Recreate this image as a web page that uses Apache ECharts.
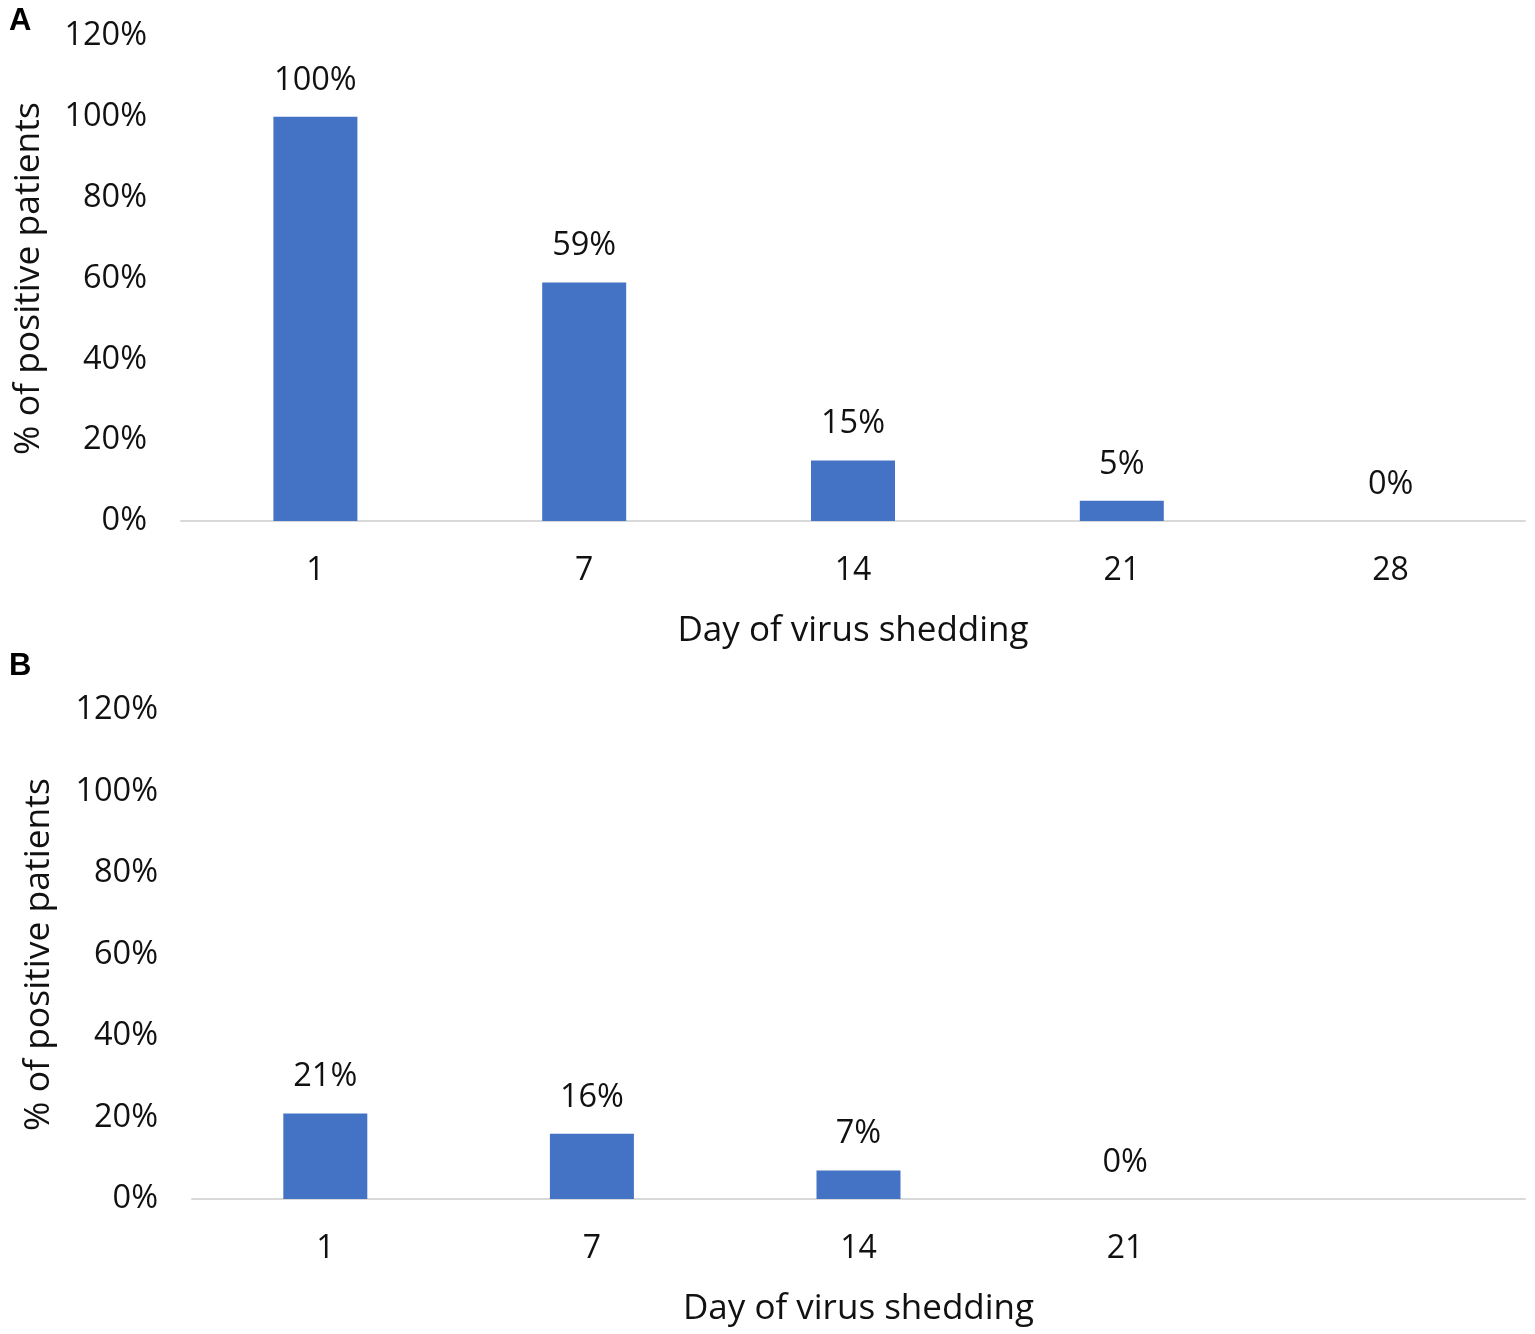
<!DOCTYPE html>
<html>
<head>
<meta charset="utf-8">
<script src="https://cdn.jsdelivr.net/npm/echarts@6/dist/echarts.min.js"></script>
<style>
html,body{margin:0;padding:0;background:#fff;}
#c{width:1535px;height:1334px;}
</style>
</head>
<body>
<div id="c"></div>
<script>
const categoriesA = ['1', '7', '14', '21', '28'];
const valuesA = [100, 59, 15, 5, 0];
const categoriesB = ['1', '7', '14', '21', ''];
const valuesB = [21, 16, 7, 0, null];
const yTicks = [0, 20, 40, 60, 80, 100, 120];
const panelLabels = ['A', 'B'];
const xTitle = 'Day of virus shedding';
const yTitle = '% of positive patients';

const FONT = 'Open Sans';
const TXT = '#111';
const BAR = '#4472C4';
const AXIS = '#D9D9D9';

const chart = echarts.init(document.getElementById('c'), null, {renderer: 'canvas'});

function xAxis(idx, cats) {
  return {
    type: 'category', gridIndex: idx, data: cats,
    axisLine: {lineStyle: {color: AXIS, width: 2}},
    axisTick: {show: false},
    axisLabel: {color: TXT, fontFamily: FONT, fontSize: 32, margin: 34},
    name: xTitle, nameLocation: 'middle', nameGap: 93,
    nameTextStyle: {color: TXT, fontFamily: FONT, fontSize: 35}
  };
}
function yAxis(idx, gap) {
  return {
    type: 'value', gridIndex: idx, min: yTicks[0], max: yTicks[yTicks.length - 1], interval: 20,
    axisLine: {show: false}, axisTick: {show: false}, splitLine: {show: false},
    axisLabel: {color: TXT, fontFamily: FONT, fontSize: 32.5, margin: 34, formatter: v => v + '%'},
    name: yTitle, nameLocation: 'middle', nameGap: gap,
    nameTextStyle: {color: TXT, fontFamily: FONT, fontSize: 35.5}
  };
}
function bars(idx, vals) {
  return {
    type: 'bar', xAxisIndex: idx, yAxisIndex: idx, data: vals, barWidth: 84,
    itemStyle: {color: BAR},
    label: {show: true, position: 'top', distance: 20, color: TXT, fontFamily: FONT, fontSize: 32.5,
      formatter: p => p.value == null ? '' : p.value + '%'}
  };
}

chart.setOption({
  animation: false,
  backgroundColor: '#fff',
  grid: [
    {left: 181, right: 10, top: 36, bottom: 813},
    {left: 192, right: 10, top: 710, bottom: 135}
  ],
  xAxis: [xAxis(0, categoriesA), xAxis(1, categoriesB)],
  yAxis: [yAxis(0, 134), yAxis(1, 135)],
  series: [bars(0, valuesA), bars(1, valuesB)],
  graphic: [
    {type: 'text', left: 9, top: 6, style: {text: panelLabels[0], font: 'bold 31px Liberation Sans', fill: '#000'}},
    {type: 'text', left: 9, top: 651, style: {text: panelLabels[1], font: 'bold 31px Liberation Sans', fill: '#000'}}
  ]
});
</script>
</body>
</html>
